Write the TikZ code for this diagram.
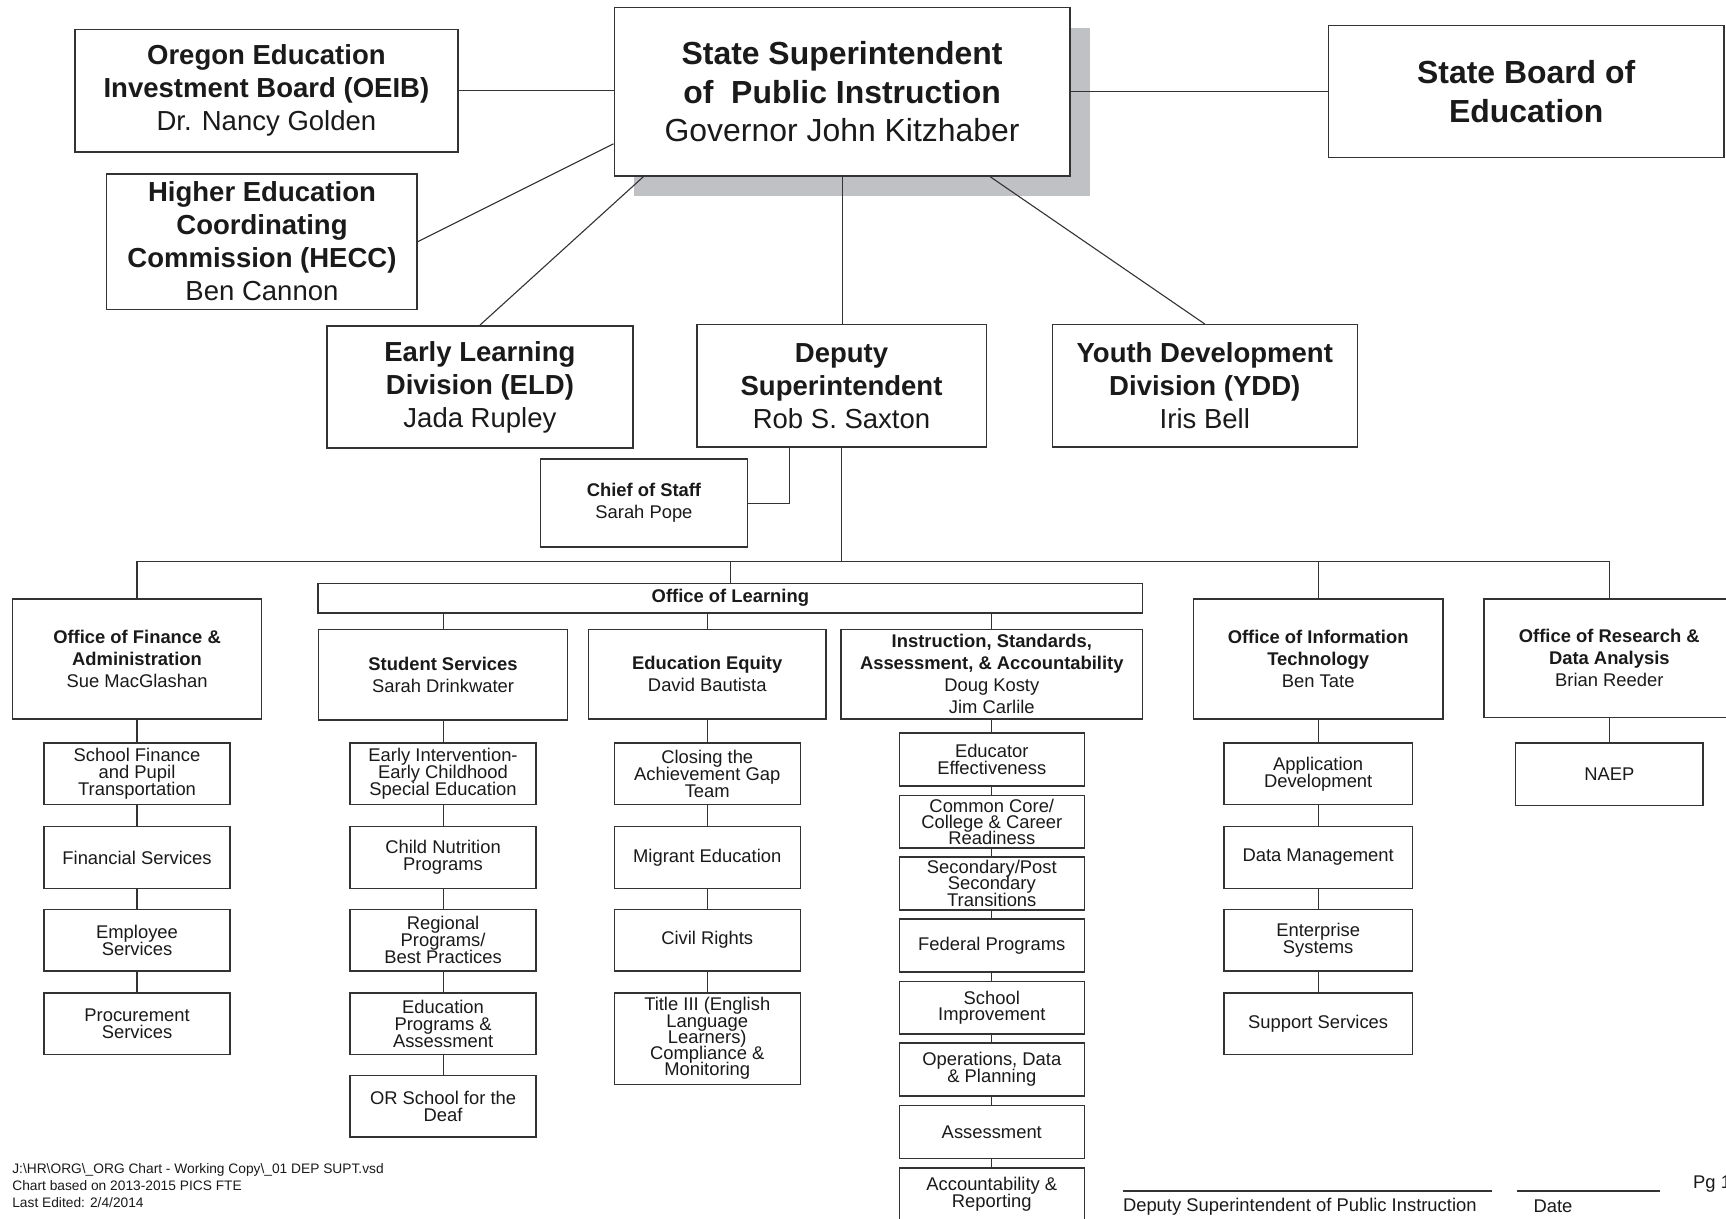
\documentclass[tikz,border=0pt]{standalone}
\usepackage{fontspec}
\setmainfont{Liberation Sans}
\usetikzlibrary{calc}
\definecolor{linec}{HTML}{333333}
\definecolor{textc}{HTML}{1A1A1A}
\definecolor{shadowc}{HTML}{C0C1C5}
\newcommand{\fntA}{\fontsize{29}{35}\selectfont\lineskiplimit=-50pt\relax}
\newcommand{\fntB}{\fontsize{25}{30}\selectfont\lineskiplimit=-50pt\relax}
\newcommand{\fntC}{\fontsize{16.7}{20}\selectfont\lineskiplimit=-50pt\relax}
\newcommand{\fntD}{\fontsize{16.7}{15.3}\selectfont\lineskiplimit=-50pt\relax}
\newcommand{\fntF}{\fontsize{16.7}{14.7}\selectfont\lineskiplimit=-50pt\relax}
\newcommand{\fntE}{\fontsize{12.5}{15.5}\selectfont\lineskiplimit=-50pt\relax}
\begin{document}
\begin{tikzpicture}[x=1pt,y=-1pt,
  box/.style={draw=linec, line width=1.3pt, fill=white, inner sep=0pt, align=center, text=textc},
  wh/.style 2 args={minimum width=#1pt, minimum height=#2pt},
  topbox/.style={box, font=\fntB},
  midbox/.style={box, font=\fntC},
  sub/.style={box, font=\fntD, minimum width=169pt, minimum height=56pt},
  isub/.style={box, font=\fntD, minimum width=168pt, minimum height=48pt},
  conn/.style={draw=linec, line width=1pt},
  plain/.style={inner sep=0pt, text=textc}]
\useasboundingbox (0,0) rectangle (1568,1107.4);
\fill[white] (0,0) rectangle (1568,1107.4);

% shadow of the top box
\fill[shadowc] (576,25) rectangle (990,178);

% top level
\node[box, font=\fntA, wh={414}{153}] (ss) at (765,83.5)
  {\textbf{State Superintendent}\\\textbf{of~ Public Instruction}\\Governor John Kitzhaber};
\node[topbox, wh={348}{111}] (oeib) at (242,82.5)
  {\textbf{Oregon Education}\\\textbf{Investment Board (OEIB)}\\Dr. Nancy Golden};
\node[topbox, wh={282}{123}] (hecc) at (238,219.5)
  {\textbf{Higher Education}\\\textbf{Coordinating}\\\textbf{Commission (HECC)}\\Ben Cannon};
\node[box, font=\fntA, wh={359}{120}] (sb) at (1386.5,83)
  {\textbf{State Board of}\\\textbf{Education}};
\node[topbox, wh={278}{111}] (eld) at (436,351.5)
  {\textbf{Early Learning}\\\textbf{Division (ELD)}\\Jada Rupley};
\node[topbox, wh={263}{111}] (dep) at (764.5,350.5)
  {\textbf{Deputy}\\\textbf{Superintendent}\\Rob S. Saxton};
\node[topbox, wh={277}{111}] (ydd) at (1094.5,350.5)
  {\textbf{Youth Development}\\\textbf{Division (YDD)}\\Iris Bell};
\node[midbox, wh={188}{80}] (cos) at (585,457)
  {\textbf{Chief of Staff}\\Sarah Pope};
\node[midbox, wh={749}{27}] (ool) at (663.5,543.5) {\textbf{Office of Learning}};

% second level
\node[midbox, wh={226}{109}] (f0) at (124.5,598.5)
  {\textbf{Office of Finance \&}\\\textbf{Administration}\\Sue MacGlashan};
\node[midbox, wh={226}{82}] (s0) at (402.5,613)
  {\textbf{Student Services}\\Sarah Drinkwater};
\node[midbox, wh={216}{81}] (e0) at (642.5,612.5)
  {\textbf{Education Equity}\\David Bautista};
\node[midbox, wh={274}{81}] (i0) at (901,612.5)
  {\textbf{Instruction, Standards,}\\\textbf{Assessment, \& Accountability}\\Doug Kosty\\Jim Carlile};
\node[midbox, wh={227}{109}] (t0) at (1197.5,598.5)
  {\textbf{Office of Information}\\\textbf{Technology}\\Ben Tate};
\node[midbox, wh={228}{108}] (r0) at (1462,598)
  {\textbf{Office of Research \&}\\\textbf{Data Analysis}\\Brian Reeder};

% finance column
\node[sub] (f1) at (124.5,703) {School Finance\\and Pupil\\Transportation};
\node[sub] (f2) at (124.5,779) {Financial Services};
\node[sub] (f3) at (124.5,854) {Employee\\Services};
\node[sub] (f4) at (124.5,930) {Procurement\\Services};

% student services column
\node[sub] (s1) at (402.5,703) {Early Intervention-\\Early Childhood\\Special Education};
\node[sub] (s2) at (402.5,779) {Child Nutrition\\Programs};
\node[sub] (s3) at (402.5,854) {Regional\\Programs/\\Best Practices};
\node[sub] (s4) at (402.5,930) {Education\\Programs \&\\Assessment};
\node[sub] (s5) at (402.5,1005) {OR School for the\\Deaf};

% equity column
\node[sub] (e1) at (642.5,703) {Closing the\\Achievement Gap\\Team};
\node[sub] (e2) at (642.5,779) {Migrant Education};
\node[sub] (e3) at (642.5,854) {Civil Rights};
\node[sub, minimum height=83pt, font=\fntF] (e4) at (642.5,943.5)
  {Title III (English\\Language\\Learners)\\Compliance \&\\Monitoring};

% instruction column
\node[isub] (i1) at (901,690) {Educator\\Effectiveness};
\node[isub, font=\fntF] (i2) at (901,746.5) {Common Core/\\College \& Career\\Readiness};
\node[isub] (i3) at (901,802.5) {Secondary/Post\\Secondary\\Transitions};
\node[isub] (i4) at (901,859) {Federal Programs};
\node[isub] (i5) at (901,915.5) {School\\Improvement};
\node[isub] (i6) at (901,971.5) {Operations, Data\\\& Planning};
\node[isub] (i7) at (901,1028.5) {Assessment};
\node[isub] (i8) at (901,1085) {Accountability \&\\Reporting};

% IT column
\node[sub, minimum width=171pt] (t1) at (1197.5,703) {Application\\Development};
\node[sub, minimum width=171pt] (t2) at (1197.5,779) {Data Management};
\node[sub, minimum width=171pt] (t3) at (1197.5,854) {Enterprise\\Systems};
\node[sub, minimum width=171pt] (t4) at (1197.5,930) {Support Services};

% research column
\node[sub, minimum width=170pt, minimum height=57pt] (r1) at (1462,703.5) {NAEP};

% connectors, top
\draw[conn] (oeib.east) -- (oeib.east -| ss.west);
\draw[conn] (sb.west -| ss.east) -- (sb.west);
\draw[conn] (hecc.east) -- ($(ss.south west)+(0,-30)$);
\draw[conn] (eld.north) -- ($(ss.south west)+(27,0)$);
\draw[conn] (ss.south) -- (ss.south |- dep.north);
\draw[conn] ($(ss.south east)+(-73,0)$) -- (ydd.north);
\draw[conn] (cos.east) -| ($(dep.south)+(-47,0)$);

% bus
\coordinate (bus) at ($(f0.north)+(0,-33)$);
\draw[conn] (f0.north) -- (bus) -| (r0.north);
\draw[conn] (dep.south) -- (dep.south |- bus);
\draw[conn] (ool.north) -- (ool.north |- bus);
\draw[conn] (t0.north) -- (t0.north |- bus);
\foreach \n in {s0,e0,i0} \draw[conn] (\n.north |- ool.south) -- (\n.north);

% chains
\foreach \a/\b in {f0/f1,f1/f2,f2/f3,f3/f4,
                   s0/s1,s1/s2,s2/s3,s3/s4,s4/s5,
                   e0/e1,e1/e2,e2/e3,e3/e4,
                   i0/i1,i1/i2,i2/i3,i3/i4,i4/i5,i5/i6,i6/i7,i7/i8,
                   t0/t1,t1/t2,t2/t3,t3/t4,
                   r0/r1}
  \draw[conn] (\a.south) -- (\b.north);

% footer
\node[plain, font=\fntE, align=left, anchor=north west] (foot) at (11,1057)
  {J:\textbackslash HR\textbackslash ORG\textbackslash\_ORG Chart - Working Copy\textbackslash\_01 DEP SUPT.vsd\\
   Chart based on 2013-2015 PICS FTE\\Last Edited: 2/4/2014};
\coordinate (sigA) at (1020,1082);
\coordinate (sigB) at (1355,1082);
\coordinate (dateA) at (1378,1082);
\coordinate (dateB) at (1508,1082);
\draw[draw=linec, line width=1.2pt] (sigA) -- (sigB);
\draw[draw=linec, line width=1.2pt] (dateA) -- (dateB);
\node[plain, font=\fntC, anchor=west] (sigtxt) at (1020,1096) {Deputy Superintendent of Public Instruction};
\node[plain, font=\fntC, anchor=west] (datetxt) at (1393,1096) {Date};
\node[plain, font=\fntC, anchor=west] (pg) at (1538,1076) {Pg 1};
\end{tikzpicture}
\end{document}
